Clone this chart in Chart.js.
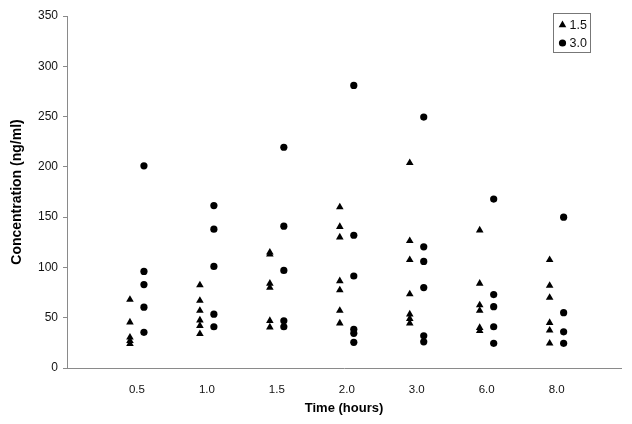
<!DOCTYPE html>
<html>
<head>
<meta charset="utf-8">
<script src="https://cdn.jsdelivr.net/npm/chart.js@4/dist/chart.umd.min.js"></script>
<style>
  html, body { margin: 0; padding: 0; background: #fff; }
  #wrap { position: relative; width: 632px; height: 424px; }
</style>
</head>
<body>
<div id="wrap"><canvas id="chart" width="632" height="424"></canvas></div>
<script>
// time points on the x axis
const times = ['0.5', '1.0', '1.5', '2.0', '3.0', '6.0', '8.0']

// concentrations (ng/ml) per time point, dose 1.5
const dose15 = [
  [68, 45.5, 30.5, 27, 24],
  [82.5, 67, 57, 47.5, 42, 34],
  [115, 113, 84, 80, 47, 40.5],
  [160, 140.5, 130, 86.5, 77.5, 57, 44.5],
  [204, 126.5, 107.5, 73.5, 53.5, 49, 44.5],
  [137, 84, 62.5, 57, 40, 37],
  [107.5, 82, 70, 45, 37.5, 24.5]
]

// concentrations (ng/ml) per time point, dose 3.0
const dose30 = [
  [201, 96, 83, 60.5, 35.5],
  [161.5, 138, 101, 53.5, 41],
  [219.5, 141, 97, 47, 41],
  [281, 132, 91.5, 38.5, 34.5, 25.5],
  [249.5, 120.5, 106, 80, 32, 26],
  [168, 73, 61, 41, 24.5],
  [150, 55, 36, 24.5]
]

const seriesLabels = ['1.5', '3.0']
const yTicks = [0, 50, 100, 150, 200, 250, 300, 350]

const FONT = "'Liberation Sans', Arial, Helvetica, sans-serif"
const AXIS = '#8a8a8a'

// each time point sits at index i+1; the two doses are drawn just left and right of it
const toPoints = (groups, shift) => {
  const pts = []
  groups.forEach((vals, i) => vals.forEach(v => pts.push({ x: i + 1 + shift, y: v })))
  return pts
}

// boxed legend in the top right corner, like the original
const boxLegend = {
  id: 'boxLegend',
  afterDraw (chart) {
    const ctx = chart.ctx
    const box = { x: 553.5, y: 13.5, w: 37, h: 39 }
    ctx.save()
    ctx.strokeStyle = '#777'
    ctx.lineWidth = 1
    ctx.strokeRect(box.x, box.y, box.w, box.h)
    ctx.font = '12.5px ' + FONT
    ctx.textBaseline = 'middle'
    chart.data.datasets.forEach((ds, i) => {
      const cy = box.y + 11.5 + i * 18
      ctx.fillStyle = '#000'
      Chart.helpers.drawPoint(ctx, {
        pointStyle: ds.pointStyle,
        radius: ds.pointRadius,
        rotation: 0,
        borderWidth: 0
      }, box.x + 9, cy)
      ctx.fillStyle = '#111'
      ctx.fillText(ds.label, box.x + 16, cy + 0.5)
    })
    ctx.restore()
  }
}

new Chart(document.getElementById('chart').getContext('2d'), {
  type: 'scatter',
  data: {
    datasets: [
      {
        label: seriesLabels[0],
        data: toPoints(dose15, -0.1),
        pointStyle: 'triangle',
        pointRadius: 4.4,
        backgroundColor: '#000',
        borderColor: '#000',
        borderWidth: 0
      },
      {
        label: seriesLabels[1],
        data: toPoints(dose30, 0.1),
        pointStyle: 'circle',
        pointRadius: 3.6,
        backgroundColor: '#000',
        borderColor: '#000',
        borderWidth: 0
      }
    ]
  },
  options: {
    responsive: false,
    animation: false,
    layout: { padding: { top: 16, right: 11, bottom: 0, left: 0 } },
    plugins: {
      legend: { display: false },
      tooltip: { enabled: false }
    },
    scales: {
      x: {
        type: 'linear',
        min: 0,
        max: 7.92,
        afterBuildTicks: axis => { axis.ticks = times.map((t, i) => ({ value: i + 1 })) },
        afterFit: axis => { axis.height = 56 },
        grid: { display: false },
        border: { display: true, color: AXIS, width: 1 },
        ticks: {
          autoSkip: false,
          maxRotation: 0,
          padding: 7,
          color: '#111',
          font: { family: FONT, size: 11.5 },
          callback: v => times[v - 1]
        },
        title: {
          display: true,
          text: 'Time (hours)',
          color: '#000',
          font: { family: FONT, size: 13, weight: 'bold' },
          padding: { top: 0, bottom: 8 }
        }
      },
      y: {
        min: 0,
        max: 350,
        afterBuildTicks: axis => { axis.ticks = yTicks.map(v => ({ value: v })) },
        afterFit: axis => { axis.width = 67 },
        grid: { drawOnChartArea: false, drawTicks: true, tickLength: 4, color: AXIS },
        border: { display: true, color: AXIS, width: 1 },
        ticks: {
          padding: 5,
          color: '#111',
          font: { family: FONT, size: 12 }
        },
        title: {
          display: true,
          text: 'Concentration (ng/ml)',
          color: '#000',
          font: { family: FONT, size: 14, weight: 'bold' },
          padding: { top: 9, bottom: 0 }
        }
      }
    }
  },
  plugins: [boxLegend]
})
</script>
</body>
</html>
